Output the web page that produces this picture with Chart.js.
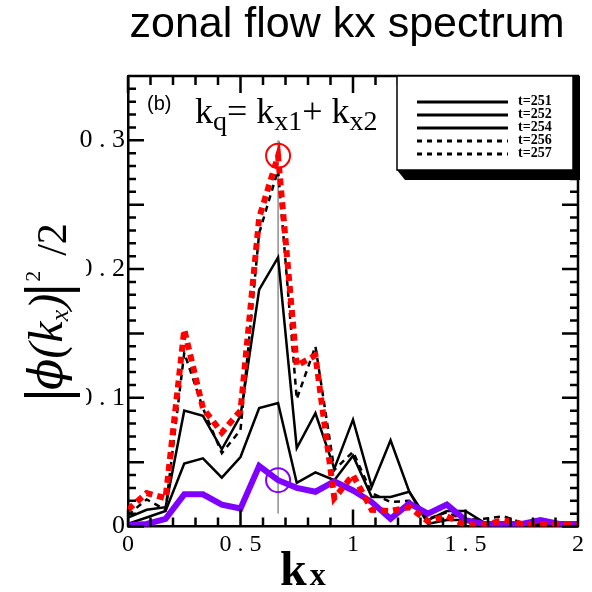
<!DOCTYPE html>
<html>
<head>
<meta charset="utf-8">
<script src="https://cdn.jsdelivr.net/npm/chart.js@4"></script>
<style>
  html, body { margin: 0; padding: 0; background: #fff; }
  canvas { display: block; }
</style>
</head>
<body>
<canvas id="kxChart" width="592" height="592"></canvas>
<script>
// kx grid and |phi(kx)|^2/2 for each saved step
const kx = [0, 0.083, 0.167, 0.25, 0.333, 0.417, 0.5, 0.583, 0.667, 0.75, 0.833, 0.917,
            1.0, 1.083, 1.167, 1.25, 1.333, 1.417, 1.5, 1.583, 1.667, 1.75, 1.833, 1.917, 2.0];
const times = ['t=251', 't=252', 't=254', 't=256', 't=257'];
const t251 = [0.001, 0.002, 0.006, 0.025, 0.025, 0.017, 0.014, 0.047, 0.036, 0.030, 0.027, 0.035, 0.028,
              0.019, 0.006, 0.018, 0.010, 0.017, 0.005, 0.002, 0.002, 0.002, 0.005, 0.002, 0.002];
const t252 = [0.002, 0.007, 0.012, 0.049, 0.053, 0.038, 0.054, 0.092, 0.096, 0.034, 0.042, 0.036, 0.055,
              0.023, 0.023, 0.027, 0.002, 0.005, 0.005, 0.002, 0.002, 0.001, 0.001, 0.001, 0.001];
const t254 = [0.007, 0.013, 0.015, 0.090, 0.086, 0.060, 0.086, 0.184, 0.209, 0.061, 0.088, 0.045, 0.083,
              0.031, 0.067, 0.027, 0.005, 0.012, 0.012, 0.003, 0.002, 0.001, 0.001, 0.001, 0.001];
const t256 = [0.009, 0.021, 0.013, 0.135, 0.092, 0.057, 0.075, 0.228, 0.277, 0.099, 0.140, 0.044, 0.058,
              0.026, 0.019, 0.020, 0.006, 0.011, 0.005, 0.006, 0.008, 0.003, 0.002, 0.003, 0.002];
const t257 = [0.013, 0.026, 0.022, 0.153, 0.092, 0.073, 0.090, 0.240, 0.288, 0.125, 0.133, 0.022, 0.040,
              0.013, 0.012, 0.015, 0.004, 0.008, 0.001, 0.001, 0.005, 0.002, 0.002, 0.002, 0.002];

// k_q = k_x1 + k_x2 marker
const kq = 0.667;
const kqSpan = [0.01, 0.30];

const xTicks = [0, 0.5, 1, 1.5, 2];
const xTickLabels = ['0', '0 . 5', '1', '1 . 5', '2'];
const yTicks = [0, 0.1, 0.2, 0.3];
const yTickLabels = ['0', '0 . 1', '0 . 2', '0 . 3'];

const SERIF = '"Liberation Serif", "Times New Roman", serif';
const SANS = '"Liberation Sans", Arial, sans-serif';

const toPoints = vals => vals.map((v, i) => ({ x: kx[i], y: v }));
const iq = kx.indexOf(kq);

// write a row of text pieces one after another (sub/superscripts via dy)
function drawRuns(ctx, x, y, runs) {
  runs.forEach(r => {
    ctx.font = r.font;
    if (r.gap) x += r.gap;
    ctx.fillText(r.text, x, y + (r.dy || 0));
    x += ctx.measureText(r.text).width;
  });
  return x;
}

const decorations = {
  id: 'decorations',
  afterDatasetsDraw(chart) {
    const { ctx, chartArea: a, scales: { x, y } } = chart;
    ctx.save();
    ctx.strokeStyle = '#000';
    ctx.lineWidth = 2.5;
    ctx.beginPath();
    ctx.moveTo(a.left, a.top);
    ctx.lineTo(a.right, a.top);
    ctx.lineTo(a.right, a.bottom);
    // inward ticks on all four sides
    for (let i = 0; i <= 35; i++) {
      const py = y.getPixelForValue(i / 100);
      const len = i % 5 === 0 ? 16 : 8;
      ctx.moveTo(a.left, py); ctx.lineTo(a.left + len, py);
      ctx.moveTo(a.right, py); ctx.lineTo(a.right - len, py);
    }
    for (let i = 0; i <= 20; i++) {
      const px = x.getPixelForValue(i / 10);
      const len = i % 5 === 0 ? 17 : 9;
      ctx.moveTo(px, a.bottom); ctx.lineTo(px, a.bottom - len);
      ctx.moveTo(px, a.top); ctx.lineTo(px, a.top + len);
    }
    ctx.stroke();
    ctx.restore();
  },
  afterDraw(chart) {
    const { ctx } = chart;
    ctx.save();
    ctx.fillStyle = '#000';
    ctx.textBaseline = 'alphabetic';

    // title
    ctx.font = '43px ' + SANS;
    ctx.textAlign = 'center';
    ctx.fillText('zonal flow kx spectrum', 347, 37);
    ctx.textAlign = 'left';

    // legend box with heavy shadow
    const bx = 397, by = 76, bw = 176, bh = 94;
    ctx.beginPath();
    ctx.moveTo(bx + bw, by);
    ctx.lineTo(bx + bw + 7, by);
    ctx.lineTo(bx + bw + 7, by + bh + 10);
    ctx.lineTo(bx + 8, by + bh + 10);
    ctx.lineTo(bx, by + bh);
    ctx.closePath();
    ctx.fill();
    ctx.fillStyle = '#fff';
    ctx.fillRect(bx, by, bw, bh);
    ctx.strokeStyle = '#000';
    ctx.lineWidth = 1.5;
    ctx.strokeRect(bx, by, bw, bh);
    ctx.fillStyle = '#000';
    ctx.font = 'bold 14px ' + SERIF;
    ctx.textBaseline = 'middle';
    times.forEach((t, i) => {
      const ly = by + 26 + i * 13;
      ctx.beginPath();
      ctx.lineWidth = 3;
      ctx.setLineDash(i >= 3 ? [5, 5] : []);
      ctx.moveTo(bx + 20, ly);
      ctx.lineTo(bx + 111, ly);
      ctx.stroke();
      ctx.fillText(t, bx + 121, ly - 1);
    });
    ctx.setLineDash([]);
    ctx.textBaseline = 'alphabetic';

    // panel tag and wavenumber relation
    ctx.font = '20px ' + SANS;
    ctx.fillText('(b)', 147, 110);
    const main = '36px ' + SERIF, sub = '28px ' + SERIF;
    drawRuns(ctx, 195, 123, [
      { text: 'k', font: main }, { text: 'q', font: sub, dy: 7 },
      { text: '= ', font: main }, { text: 'k', font: main }, { text: 'x1', font: sub, dy: 7 },
      { text: '+ ', font: main }, { text: 'k', font: main }, { text: 'x2', font: sub, dy: 7 }
    ]);

    // x axis title
    drawRuns(ctx, 280, 585, [
      { text: 'k', font: 'bold 48px ' + SERIF },
      { text: 'x', font: 'bold 32px ' + SERIF, gap: 3 }
    ]);

    // y axis title, rotated; its white backing sits over the tick label column
    ctx.fillStyle = '#fff';
    ctx.fillRect(12, 210, 74, 200);
    ctx.fillStyle = '#000';
    ctx.translate(62, 397);
    ctx.rotate(-Math.PI / 2);
    ctx.fillRect(0, -38, 4, 56);
    let cx = drawRuns(ctx, 7, 0, [
      { text: '\u03d5', font: 'italic 46px "DejaVu Serif", ' + SERIF },
      { text: '(k', font: 'italic 48px ' + SERIF },
      { text: 'x', font: 'italic 26px ' + SERIF, dy: 6 },
      { text: ')', font: 'italic 48px ' + SERIF }
    ]);
    ctx.fillRect(cx + 2, -38, 4, 56);
    ctx.font = '22px ' + SERIF;
    ctx.fillText('2', cx + 12, -22);
    ctx.font = '42px ' + SERIF;
    ctx.fillText('/2', cx + 38, 4);
    ctx.restore();
  }
};

const ctx = document.getElementById('kxChart').getContext('2d');
new Chart(ctx, {
  type: 'line',
  data: {
    datasets: [
      { label: times[0], data: toPoints(t251), borderColor: '#8000ff', borderWidth: 6, order: 1 },
      { label: times[1], data: toPoints(t252), borderColor: '#000', borderWidth: 2.5, order: 3 },
      { label: times[2], data: toPoints(t254), borderColor: '#000', borderWidth: 2.5, order: 3 },
      { label: times[3], data: toPoints(t256), borderColor: '#000', borderWidth: 2.5, borderDash: [6, 5], order: 2 },
      { label: times[4], data: toPoints(t257), borderColor: '#ff0000', borderWidth: 6, borderDash: [7, 5], order: 0 },
      {
        label: 'kq', data: [{ x: kq, y: kqSpan[0] }, { x: kq, y: kqSpan[1] }],
        borderColor: '#555', borderWidth: 1, order: 5
      },
      {
        label: 'peak 257', data: [{ x: kq, y: t257[iq] }], showLine: false,
        pointRadius: 12, pointBorderWidth: 2, pointBorderColor: '#ff0000',
        pointBackgroundColor: 'rgba(0,0,0,0)', order: -1
      },
      {
        label: 'peak 251', data: [{ x: kq, y: t251[iq] }], showLine: false,
        pointRadius: 12, pointBorderWidth: 2, pointBorderColor: '#8000ff',
        pointBackgroundColor: 'rgba(0,0,0,0)', order: -1
      }
    ]
  },
  options: {
    responsive: false,
    animation: false,
    elements: { point: { radius: 0 }, line: { tension: 0, fill: false } },
    layout: { padding: { top: 76, right: 14, left: 0, bottom: 0 } },
    plugins: { legend: { display: false }, tooltip: { enabled: false }, title: { display: false } },
    scales: {
      x: {
        type: 'linear', min: 0, max: 2,
        afterBuildTicks: s => { s.ticks = xTicks.map(v => ({ value: v })); },
        afterFit: s => { s.height = 65.5; },
        ticks: {
          autoSkip: false, maxRotation: 0, padding: 4, color: '#000',
          font: { family: SERIF, size: 24 },
          callback: (v, i) => xTickLabels[i]
        },
        grid: { display: false, drawTicks: false },
        border: { display: true, color: '#000', width: 2.5 }
      },
      y: {
        type: 'linear', min: 0, max: 0.35,
        afterBuildTicks: s => { s.ticks = yTicks.map(v => ({ value: v })); },
        afterFit: s => { s.width = 128; },
        ticks: {
          autoSkip: false, padding: 3, color: '#000',
          font: { family: SERIF, size: 26 },
          callback: (v, i) => yTickLabels[i]
        },
        grid: { display: false, drawTicks: false },
        border: { display: true, color: '#000', width: 2.5 }
      }
    }
  },
  plugins: [decorations]
});
</script>
</body>
</html>
